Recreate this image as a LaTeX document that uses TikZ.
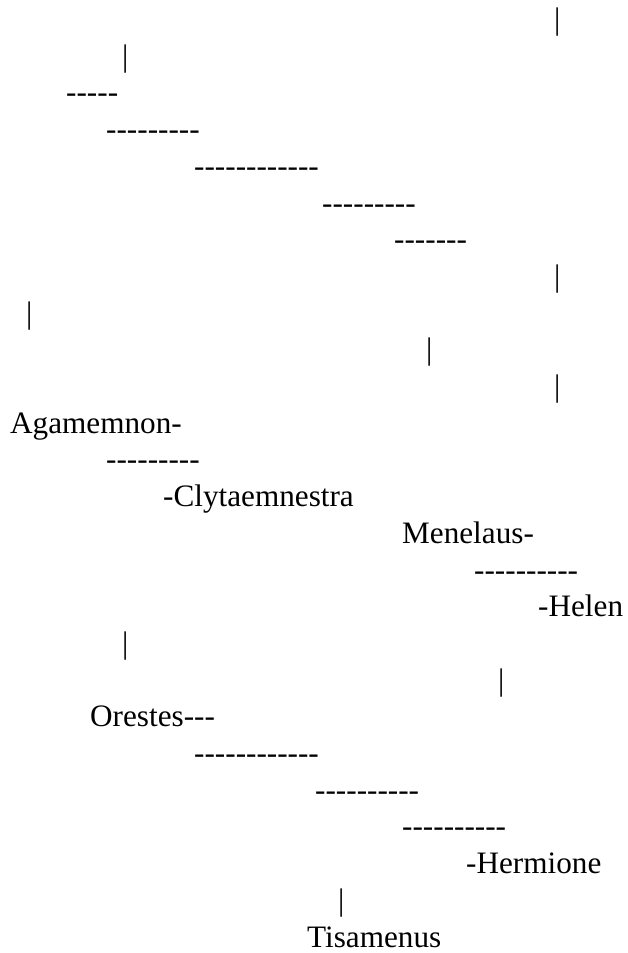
\documentclass[tikz,border=0pt]{standalone}
\usepackage{fontspec}
\setmainfont{Liberation Serif}[Ligatures=TeXOff]
\usetikzlibrary{positioning}

\tikzset{row/.style={anchor=base west,inner sep=0pt,font=\fontsize{31.2pt}{36.7pt}\selectfont}}

\begin{document}
\begin{tikzpicture}[x=1pt,y=1pt]
\useasboundingbox (0,0) rectangle (627,-953);

% one text row per line, baseline 36.7pt apart
\foreach \n/\x/\t in {1/554/|, 2/122/|, 3/66/-----, 4/106/---------,
  5/194/------------, 6/322/---------, 7/394/-------, 8/554/|,
  9/26/|, 10/426/|, 11/554/|, 12/10/Agamemnon-,
  13/106/---------, 14/163/-Clytaemnestra, 15/402/Menelaus-,
  16/474/----------, 17/538/-Helen, 18/122/|, 19/498/|,
  20/90/Orestes---, 21/194/------------, 22/315/----------,
  23/402/----------, 24/466/-Hermione, 25/338/|, 26/307/Tisamenus}{
\node[row] (r\n) at (\x,{-29.5-(\n-1)*36.7}) {\t};
}
\end{tikzpicture}
\end{document}
